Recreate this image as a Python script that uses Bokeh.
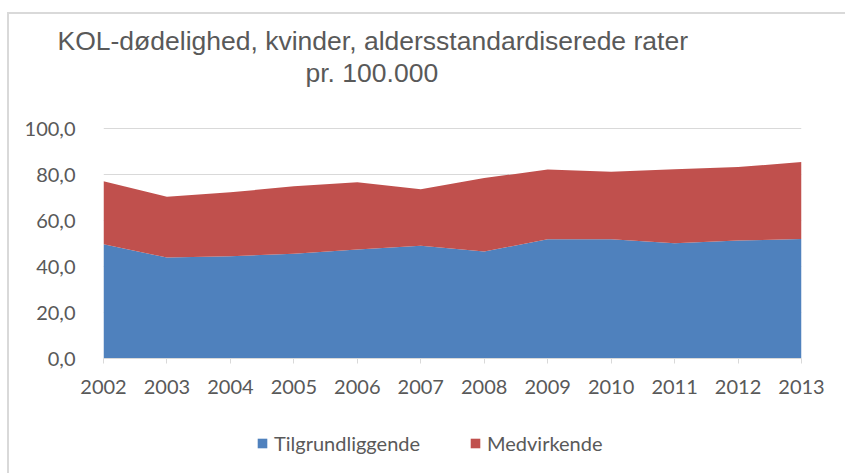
from bokeh.plotting import figure
from bokeh.layouts import column
from bokeh.models import ColumnDataSource, Range1d, FixedTicker, Legend, Title, InlineStyleSheet
from bokeh.embed import file_html
from bokeh.resources import INLINE

years = [2002, 2003, 2004, 2005, 2006, 2007, 2008, 2009, 2010, 2011, 2012, 2013]
tilgrundliggende = [49.7, 43.9, 44.5, 45.6, 47.4, 49.1, 46.5, 51.9, 51.9, 50.1, 51.3, 52.0]
medvirkende = [27.4, 26.5, 27.8, 29.3, 29.3, 24.5, 32.0, 30.3, 29.4, 32.2, 32.0, 33.5]
series_names = ["Tilgrundliggende", "Medvirkende"]
series_colors = ["#4F81BD", "#C0504D"]
y_ticks = [0, 20, 40, 60, 80, 100]
y_tick_labels = ["0,0", "20,0", "40,0", "60,0", "80,0", "100,0"]
title_lines = ["KOL-dødelighed, kvinder, aldersstandardiserede rater", "pr. 100.000"]

GRAY = "#595959"
LINE = "#D9D9D9"
FONT = "Lato"

src = ColumnDataSource(dict(year=years, Tilgrundliggende=tilgrundliggende, Medvirkende=medvirkende))

# ---- main chart ----
p = figure(width=845, height=403, output_backend="svg", toolbar_location=None,
           x_range=Range1d(2002, 2013), y_range=Range1d(0, 100.5),
           min_border_left=103, min_border_right=44, min_border_top=127, min_border_bottom=45)
p.outline_line_color = None
p.background_fill_color = "white"
p.border_fill_color = "white"

p.varea_stack(series_names, x="year", source=src, color=series_colors)

p.xgrid.grid_line_color = None
p.ygrid.grid_line_color = LINE
p.ygrid.ticker = FixedTicker(ticks=y_ticks)
p.ygrid.level = "underlay"

p.yaxis.ticker = FixedTicker(ticks=y_ticks)
p.yaxis.major_label_overrides = {t: l for t, l in zip(y_ticks, y_tick_labels)}
p.yaxis.axis_line_color = None
p.yaxis.major_tick_line_color = None
p.yaxis.minor_tick_line_color = None
p.yaxis.major_label_standoff = 22
p.yaxis.major_label_text_font = FONT
p.yaxis.major_label_text_font_size = "20px"
p.yaxis.major_label_text_color = GRAY

p.xaxis.ticker = FixedTicker(ticks=years)
p.xaxis.major_label_overrides = {y: str(y) for y in years}
p.xaxis.axis_line_color = LINE
p.xaxis.major_tick_line_color = LINE
p.xaxis.major_tick_in = 0
p.xaxis.major_tick_out = 5
p.xaxis.minor_tick_line_color = None
p.xaxis.major_label_standoff = 16
p.xaxis.major_label_text_font = FONT
p.xaxis.major_label_text_font_size = "20px"
p.xaxis.major_label_text_color = GRAY

# spacer between title and plot frame
p.add_layout(Title(text=" ", text_font_size="34px", standoff=0), "above")
p.add_layout(Title(text=title_lines[1], align="left", offset=202, standoff=0,
                   text_font="Liberation Sans", text_font_size="26.5px", text_font_style="normal",
                   text_color=GRAY), "above")
p.add_layout(Title(text=title_lines[0], align="left", offset=-46, standoff=0,
                   text_font="Liberation Sans", text_font_size="26.5px", text_font_style="normal",
                   text_color=GRAY), "above")

p.stylesheets = [InlineStyleSheet(css=(
    ":host::after { content: ''; position: absolute; left: 7px; top: 12px; right: 0px; bottom: -70px;"
    " border-top: 2px solid #D9D9D9; border-left: 2px solid #D9D9D9; pointer-events: none; z-index: 5; }"))]

# ---- legend strip below the chart ----
q = figure(width=845, height=70, output_backend="svg", toolbar_location=None,
           x_range=Range1d(0, 1), y_range=Range1d(0, 1),
           x_axis_location=None, y_axis_location=None,
           min_border_left=0, min_border_right=0, min_border_top=0, min_border_bottom=0)
q.outline_line_color = None
q.grid.grid_line_color = None
q.background_fill_color = "white"
q.border_fill_color = "white"
lr = q.varea_stack(series_names, x="year", source=src, color=series_colors)

legend = Legend(items=[(n, [r]) for n, r in zip(series_names, lr)], orientation="horizontal",
                location=(153, 18), padding=0, margin=0, spacing=34, label_standoff=6,
                glyph_width=12, glyph_height=12, label_height=24, label_width=161,
                label_text_font=FONT, label_text_font_size="20px", label_text_color=GRAY,
                border_line_color=None, background_fill_alpha=0)
q.add_layout(legend, "center")

layout = column(p, q, spacing=0)
open("out.html", "w").write(file_html(layout, INLINE))
